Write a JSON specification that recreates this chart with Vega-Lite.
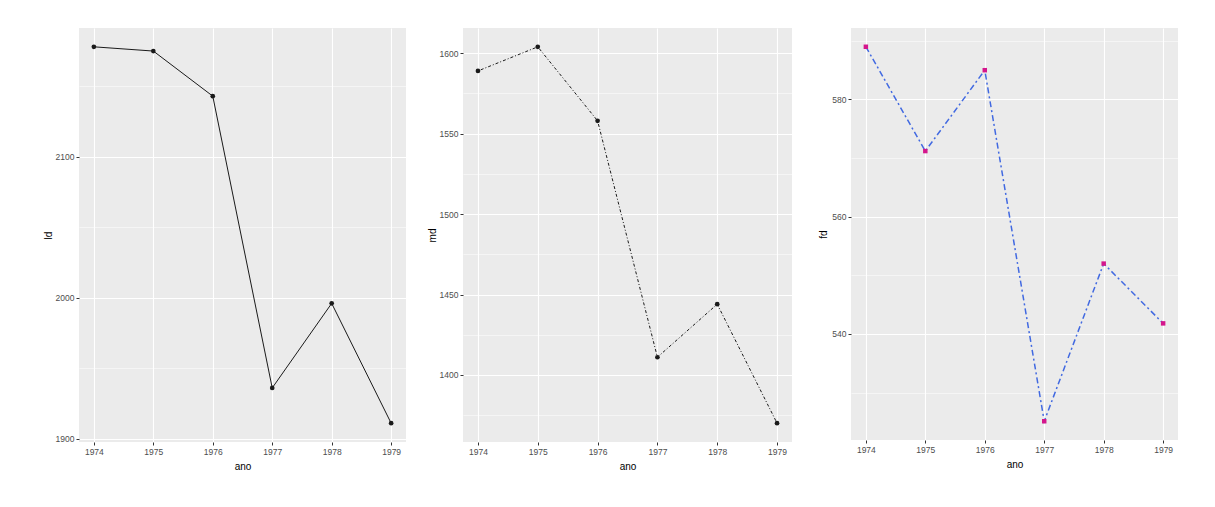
{
  "$schema": "https://vega.github.io/schema/vega-lite/v6.json",
  "background": "#FFFFFF",
  "padding": {"left": 43, "top": 28, "right": 0, "bottom": 0},
  "datasets": {
    "d": [
      {"ano": 1974, "ld": 2178, "md": 1589, "fd": 589.0},
      {"ano": 1975, "ld": 2175, "md": 1604, "fd": 571.2},
      {"ano": 1976, "ld": 2143, "md": 1558, "fd": 585.0},
      {"ano": 1977, "ld": 1936, "md": 1411, "fd": 525.1},
      {"ano": 1978, "ld": 1996, "md": 1444, "fd": 552.0},
      {"ano": 1979, "ld": 1911, "md": 1370, "fd": 541.8}
    ]
  },
  "spacing": 26,
  "hconcat": [
    {
      "spacing": 21,
      "hconcat": [
        {
          "width": 327,
          "height": 414,
          "data": {"name": "d"},
          "encoding": {
            "x": {"field": "ano", "type": "quantitative", "title": "ano",
              "scale": {"domain": [1973.75, 1979.25], "nice": false, "zero": false},
              "axis": {"values": [1974, 1974.5, 1975, 1975.5, 1976, 1976.5, 1977, 1977.5, 1978, 1978.5, 1979], "format": "d",
                "labelExpr": "datum.value % 1 == 0 ? datum.label : ''",
                "gridWidth": {"condition": {"test": "datum.value % 1 != 0", "value": 0.5}, "value": 1.1},
                "tickOpacity": {"condition": {"test": "datum.value % 1 != 0", "value": 0}, "value": 1}}},
            "y": {"field": "ld", "type": "quantitative", "title": "ld",
              "scale": {"domain": [1897.65, 2191.35], "nice": false, "zero": false},
              "axis": {"values": [1900, 1950, 2000, 2050, 2100, 2150], "format": "d", "titlePadding": 2,
                "labelExpr": "datum.value % 100 == 0 ? datum.label : ''",
                "gridWidth": {"condition": {"test": "datum.value % 100 != 0", "value": 0.5}, "value": 1.1},
                "tickOpacity": {"condition": {"test": "datum.value % 100 != 0", "value": 0}, "value": 1}}}
          },
          "layer": [
            {"mark": {"type": "line", "color": "#1A1A1A", "strokeWidth": 1}},
            {"mark": {"type": "point", "shape": "circle", "filled": true, "color": "#1A1A1A", "size": 22, "opacity": 1}}
          ]
        },
        {
          "width": 329,
          "height": 414,
          "data": {"name": "d"},
          "encoding": {
            "x": {"field": "ano", "type": "quantitative", "title": "ano",
              "scale": {"domain": [1973.75, 1979.25], "nice": false, "zero": false},
              "axis": {"values": [1974, 1974.5, 1975, 1975.5, 1976, 1976.5, 1977, 1977.5, 1978, 1978.5, 1979], "format": "d",
                "labelExpr": "datum.value % 1 == 0 ? datum.label : ''",
                "gridWidth": {"condition": {"test": "datum.value % 1 != 0", "value": 0.5}, "value": 1.1},
                "tickOpacity": {"condition": {"test": "datum.value % 1 != 0", "value": 0}, "value": 1}}},
            "y": {"field": "md", "type": "quantitative", "title": "md",
              "scale": {"domain": [1358.3, 1615.7], "nice": false, "zero": false},
              "axis": {"values": [1375, 1400, 1425, 1450, 1475, 1500, 1525, 1550, 1575, 1600], "format": "d", "titlePadding": 2,
                "labelExpr": "datum.value % 50 == 0 ? datum.label : ''",
                "gridWidth": {"condition": {"test": "datum.value % 50 != 0", "value": 0.5}, "value": 1.1},
                "tickOpacity": {"condition": {"test": "datum.value % 50 != 0", "value": 0}, "value": 1}}}
          },
          "layer": [
            {"mark": {"type": "line", "color": "#1A1A1A", "strokeWidth": 1, "strokeDash": [1, 2, 3, 2]}},
            {"mark": {"type": "point", "shape": "circle", "filled": true, "color": "#1A1A1A", "size": 22, "opacity": 1}}
          ]
        }
      ]
    },
    {
      "width": 327,
      "height": 412,
      "data": {"name": "d"},
      "encoding": {
        "x": {"field": "ano", "type": "quantitative", "title": "ano",
          "scale": {"domain": [1973.75, 1979.25], "nice": false, "zero": false},
          "axis": {"values": [1974, 1974.5, 1975, 1975.5, 1976, 1976.5, 1977, 1977.5, 1978, 1978.5, 1979], "format": "d",
            "labelExpr": "datum.value % 1 == 0 ? datum.label : ''",
            "gridWidth": {"condition": {"test": "datum.value % 1 != 0", "value": 0.5}, "value": 1.1},
            "tickOpacity": {"condition": {"test": "datum.value % 1 != 0", "value": 0}, "value": 1}}},
        "y": {"field": "fd", "type": "quantitative", "title": "fd",
          "scale": {"domain": [521.9, 592.2], "nice": false, "zero": false},
          "axis": {"values": [530, 540, 550, 560, 570, 580, 590], "format": "d", "titlePadding": 3,
            "labelExpr": "datum.value % 20 == 0 ? datum.label : ''",
            "gridWidth": {"condition": {"test": "datum.value % 20 != 0", "value": 0.5}, "value": 1.1},
            "tickOpacity": {"condition": {"test": "datum.value % 20 != 0", "value": 0}, "value": 1}}}
      },
      "layer": [
        {"mark": {"type": "line", "color": "#4169E1", "strokeWidth": 1.5, "strokeDash": [6, 3, 2, 3]}},
        {"mark": {"type": "point", "shape": "square", "filled": true, "color": "#D4168C", "size": 20, "opacity": 1}}
      ]
    }
  ],
  "config": {
    "font": "Liberation Sans",
    "view": {"fill": "#EBEBEB", "stroke": null},
    "axis": {
      "domain": false,
      "gridColor": "#FFFFFF",
      "tickColor": "#333333",
      "tickSize": 3,
      "tickWidth": 1,
      "labelColor": "#4D4D4D",
      "labelFont": "Liberation Sans",
      "labelFontSize": 8.5,
      "labelPadding": 2,
      "titleFont": "Liberation Sans",
      "titleFontSize": 10,
      "titleFontWeight": "normal",
      "titleColor": "#000000",
      "titlePadding": 6
    }
  }
}
